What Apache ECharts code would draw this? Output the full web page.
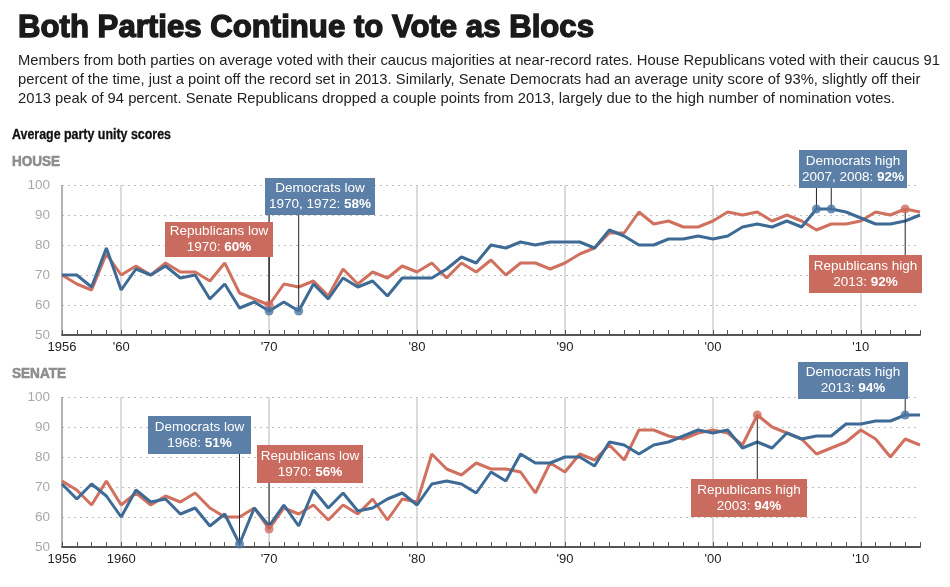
<!DOCTYPE html>
<html><head><meta charset="utf-8">
<script src="https://cdn.jsdelivr.net/npm/echarts@6/dist/echarts.min.js"></script>
<style>html,body{margin:0;padding:0;background:#fff}#c{width:950px;height:587px}</style>
</head><body><div id="c"></div>
<script>
const years = [1956,1957,1958,1959,1960,1961,1962,1963,1964,1965,1966,1967,1968,1969,1970,1971,1972,1973,1974,1975,1976,1977,1978,1979,1980,1981,1982,1983,1984,1985,1986,1987,1988,1989,1990,1991,1992,1993,1994,1995,1996,1997,1998,1999,2000,2001,2002,2003,2004,2005,2006,2007,2008,2009,2010,2011,2012,2013,2014];
const houseDem = [70,70,66,79,65,72,70,73,69,70, 62,67,59,61,58,61,58,67,62,69, 66,68,63,69,69,69,72,76,74,80, 79,81,80,81,81,81,79,85,83,80, 80,82,82,83,82,83,86,87,86,88, 86,92,92,91,89,87,87,88,90];
const houseRep = [70,67,65,77,70,73,70,74,71,71, 68,74,64,62,60,67,66,68,63,72, 67,71,69,73,71,74,69,74,71,75, 70,74,74,72,74,77,79,84,84,91, 87,88,86,86,88,91,90,91,88,90, 88,85,87,87,88,91,90,92,91];
const senateDem = [71,66,71,67,60,69,65,66,61,63, 57,61,51,63,57,64,57,69,63,68, 62,63,66,68,64,71,72,71,68,75, 72,81,78,78,80,80,77,85,84,81, 84,85,87,89,88,89,83,85,83,88, 86,87,87,91,91,92,92,94,94];
const senateRep = [72,69,64,72,64,68,64,67,65,68, 63,60,60,63,56,63,61,64,59,64, 61,66,59,66,65,81,76,74,78,76, 76,75,68,78,75,81,79,84,79,89, 89,87,86,88,89,88,84,94,90,88, 86,81,83,85,89,86,80,86,84];
const yTicks = [50,60,70,80,90,100];

const titleText = 'Both Parties Continue to Vote as Blocs';
const subtitleLines = [
  'Members from both parties on average voted with their caucus majorities at near-record rates. House Republicans voted with their caucus 91',
  'percent of the time, just a point off the record set in 2013. Similarly, Senate Democrats had an average unity score of 93%, slightly off their',
  '2013 peak of 94 percent. Senate Republicans dropped a couple points from 2013, largely due to the high number of nomination votes.'
];
const chartLabel = 'Average party unity scores';
const panelNames = ['HOUSE', 'SENATE'];

// annotation texts and which points they mark
const notes = [
  {g:0, party:'rep', yrs:[1970], l1:'Republicans low', l2:'1970: ', v:'60%'},
  {g:0, party:'dem', yrs:[1970,1972], l1:'Democrats low', l2:'1970, 1972: ', v:'58%'},
  {g:0, party:'dem', yrs:[2007,2008], l1:'Democrats high', l2:'2007, 2008: ', v:'92%'},
  {g:0, party:'rep', yrs:[2013], l1:'Republicans high', l2:'2013: ', v:'92%'},
  {g:1, party:'dem', yrs:[1968], l1:'Democrats low', l2:'1968: ', v:'51%'},
  {g:1, party:'rep', yrs:[1970], l1:'Republicans low', l2:'1970: ', v:'56%'},
  {g:1, party:'dem', yrs:[2013], l1:'Democrats high', l2:'2013: ', v:'94%'},
  {g:1, party:'rep', yrs:[2003], l1:'Republicans high', l2:'2003: ', v:'94%'}
];
// box layout (pixels): x, y, w, h
const noteBoxes = [[165,222,108,35],[265,178,110,37],[799,150,108,38],[809,255,113,38],[148,416,103,38],[257,445,106,38],[798,362,110,37],[691,479,116,38]];

const BLUE = '#3d6b96', RED = '#d0705f', BLUEBOX = '#5b7fa6', REDBOX = '#c96b5e';
const FAM = 'Liberation Sans';
const SANS = '"Liberation Sans",Arial,sans-serif';

const ctx = document.createElement('canvas').getContext('2d');
function fitScale(text, weight, size, target){ ctx.font = weight+' '+size+'px "'+FAM+'"'; return target / ctx.measureText(text).width; }
function txt(x, y, text, weight, size, color, target, thick){
  const style = {text:text, fontFamily:FAM, fontWeight:weight, fontSize:size, fill:color, verticalAlign:'middle'};
  if (thick) { style.stroke = color; style.lineWidth = thick; }
  return {type:'text', x:x, y:y, scaleX: target ? fitScale(text, weight, size, target) : 1, style:style};
}

const dataSets = [{dem:houseDem, rep:houseRep}, {dem:senateDem, rep:senateRep}];
const pairs = arr => years.map((y,i)=>[y,arr[i]]);
const vSplitColors = years.map((y,i)=> i===0 ? '#9a9a9a' : (y%10===0 ? '#cfcfcf' : 'rgba(0,0,0,0)'));

const chart = echarts.init(document.getElementById('c'), null, {renderer:'canvas'});
const grids = [{left:62, right:30, top:185, height:150}, {left:62, right:30, top:397, height:150}];
const xAxes = grids.map((g,gi)=>({
  type:'value', gridIndex:gi, min:years[0], max:years[years.length-1], interval:1,
  axisLine:{show:true, lineStyle:{color:'#555', width:2}},
  axisTick:{show:true, inside:true, length:5, lineStyle:{color:'#555', width:1}},
  splitLine:{show:true, lineStyle:{color:vSplitColors, width:1.5}},
  axisLabel:{margin:6, color:'#222', fontFamily:SANS, fontSize:13,
    formatter:v=>{ if (v===years[0]) return String(v); if (v%10!==0) return '';
      if (gi===1 && v===1960) return '1960'; return "'"+String(v).slice(2);} }
}));
const yAxes = grids.map((g,gi)=>({
  type:'value', gridIndex:gi, min:yTicks[0], max:yTicks[yTicks.length-1], interval:10,
  axisLine:{show:false}, axisTick:{show:false},
  splitLine:{show:true, lineStyle:{color:'#bdbdbd', width:1, type:[2,4]}},
  axisLabel:{margin:12, color:'#a8a8a8', fontFamily:SANS, fontSize:13.5}
}));
const series = [];
dataSets.forEach((d,gi)=>{
  series.push({type:'line', xAxisIndex:gi, yAxisIndex:gi, data:pairs(d.rep), symbol:'none', lineStyle:{color:RED, width:3}, z:3, silent:true, animation:false});
  series.push({type:'line', xAxisIndex:gi, yAxisIndex:gi, data:pairs(d.dem), symbol:'none', lineStyle:{color:BLUE, width:3}, z:4, silent:true, animation:false});
  ['rep','dem'].forEach(p=>{
    const pts = [];
    notes.filter(n=>n.g===gi && n.party===p).forEach(n=>n.yrs.forEach(y=>pts.push([y, d[p][years.indexOf(y)]])));
    series.push({type:'scatter', xAxisIndex:gi, yAxisIndex:gi, data:pts, symbol:'circle', symbolSize:9,
      itemStyle:{color:p==='dem'?'#4a77a3':'#d26d5f'}, z:6, silent:true, animation:false});
  });
});

const subScale = fitScale(subtitleLines[0], 'normal', 15, 922);
const graphics = [
  txt(18, 28, titleText, 'bold', 32, '#1a1a1a', 576, 1.4),
  ...subtitleLines.map((t,i)=>{ const e = txt(18, 61+i*19, t, 'normal', 15, '#222'); e.scaleX = subScale; return e; }),
  txt(12, 135, chartLabel, 'bold', 14, '#111', 159, 0.3),
  txt(12, 162, panelNames[0], 'bold', 14.5, '#8d8d8d', 48, 0.6),
  txt(12, 374, panelNames[1], 'bold', 14.5, '#8d8d8d', 54, 0.6)
];

chart.setOption({animation:false, grid:grids, xAxis:xAxes, yAxis:yAxes, series:series, graphic:graphics});

// annotation boxes and leader lines, anchored to data points through the axes
const extra = [];
notes.forEach((n,k)=>{
  const [bx,by,bw,bh] = noteBoxes[k];
  const d = dataSets[n.g][n.party];
  n.yrs.forEach(y=>{
    const p = chart.convertToPixel({xAxisIndex:n.g, yAxisIndex:n.g}, [y, d[years.indexOf(y)]]);
    const edge = p[1] > by ? by+bh : by;
    extra.push({type:'line', z:5, shape:{x1:p[0], y1:edge, x2:p[0], y2:p[1]}, style:{stroke:'#222', lineWidth:1}});
  });
  extra.push({type:'rect', z:10, shape:{x:bx, y:by, width:bw, height:bh}, style:{fill:n.party==='dem'?BLUEBOX:REDBOX}});
  extra.push({type:'text', z:11, x:bx+bw/2, y:by+bh/2, style:{
    text:'{a|'+n.l1+'}\n{a|'+n.l2+'}{b|'+n.v+'}', align:'center', verticalAlign:'middle',
    rich:{a:{fontFamily:FAM, fontSize:13.5, fill:'#fff', lineHeight:16}, b:{fontFamily:FAM, fontWeight:'bold', fontSize:13.5, fill:'#fff', lineHeight:16}}
  }});
});
chart.setOption({graphic:graphics.concat(extra)});
</script></body></html>
